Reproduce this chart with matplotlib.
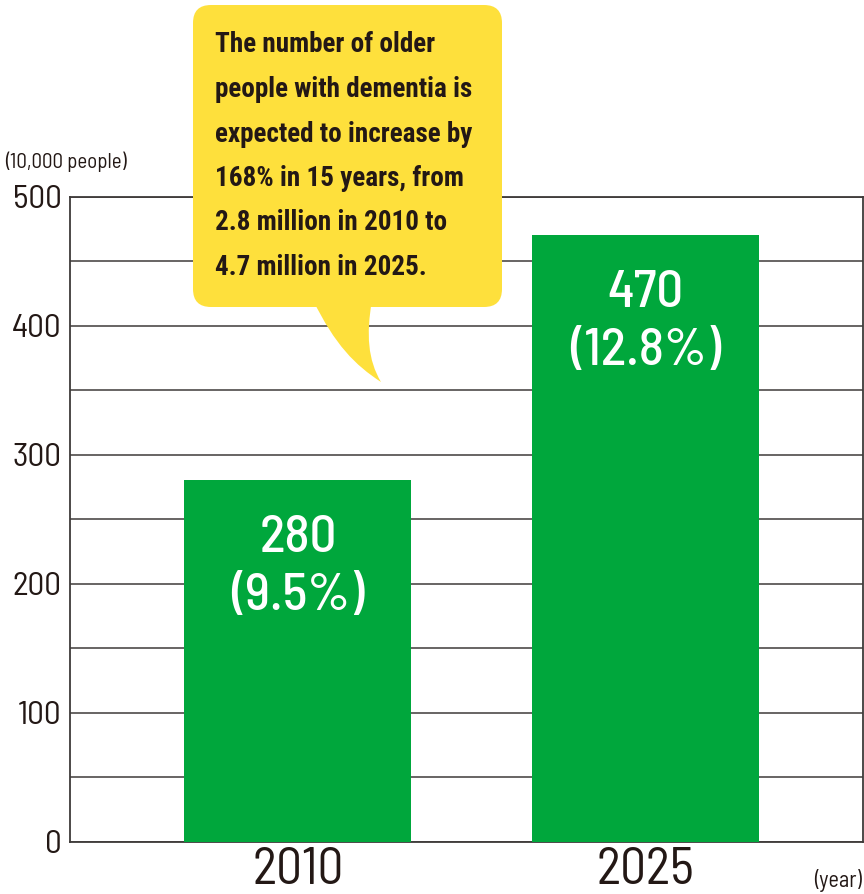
import matplotlib
matplotlib.use("Agg")
import matplotlib.pyplot as plt
from matplotlib.patches import FancyBboxPatch, PathPatch
from matplotlib.path import Path

years = ["2010", "2025"]
people = [280, 470]          # 10,000 people
share = ["9.5%", "12.8%"]    # share of older population
note_lines = [
    "The number of older",
    "people with dementia is",
    "expected to increase by",
    "168% in 15 years, from",
    "2.8 million in 2010 to",
    "4.7 million in 2025.",
]

din_like = ["Barlow Semi Condensed", "Roboto", "DejaVu Sans"]
note_font = ["Roboto Condensed", "Liberation Sans", "DejaVu Sans"]
plt.rcParams["font.family"] = din_like

ink = "#231815"
line_col = "#3e3a39"
green = "#00a73c"
yellow = "#fee03c"

W, H = 864, 894
fig = plt.figure(figsize=(W / 100, H / 100), dpi=100)
ax = fig.add_axes([70 / W, 1 - 841.5 / H, 793 / W, (841.5 - 196.5) / H])

x = range(len(years))
ax.bar(x, people, width=0.652, color=green, zorder=3)
ax.set_xlim(-0.655, 1.624)
ax.set_ylim(0, 500)

ax.set_yticks(range(0, 501, 100))
ax.set_yticks(range(50, 500, 100), minor=True)
ax.grid(axis="y", which="both", color=line_col, linewidth=1.1, zorder=0)
ax.set_axisbelow(True)
ax.tick_params(axis="y", which="both", length=0, pad=6, labelsize=24, labelcolor=ink)
ax.tick_params(axis="x", length=0, pad=4, labelsize=37, labelcolor=ink)
ax.set_xticks(list(x))
ax.set_xticklabels(years)
for s in ax.spines.values():
    s.set_color(line_col)
    s.set_linewidth(1.3)

for xi, v, p in zip(x, people, share):
    ax.text(xi, v - 45, str(v), ha="center", va="center", color="white",
            fontsize=38, fontweight="medium", zorder=4)
    ax.text(xi, v - 90, f"({p})", ha="center", va="center", color="white",
            fontsize=38, fontweight="medium", zorder=4)

fig.text(5 / W, 1 - 162 / H, "(10,000 people)", fontsize=15, color=ink,
         ha="left", va="center")
fig.text(862 / W, 1 - 880 / H, "(year)", fontsize=16, color=ink,
         ha="right", va="center")

# speech bubble overlay in pixel coordinates
ov = fig.add_axes([0, 0, 1, 1], zorder=10)
ov.set_xlim(0, W)
ov.set_ylim(H, 0)
ov.axis("off")

box = FancyBboxPatch((193, 5), 309, 302, boxstyle="round,pad=0,rounding_size=18",
                     facecolor=yellow, edgecolor="none")
ov.add_patch(box)
tail = Path(
    [(313, 300), (335, 345), (355, 365), (381, 382),
     (368, 360), (366, 335), (372, 300), (313, 300)],
    [Path.MOVETO, Path.CURVE4, Path.CURVE4, Path.CURVE4,
     Path.CURVE4, Path.CURVE4, Path.CURVE4, Path.CLOSEPOLY],
)
ov.add_patch(PathPatch(tail, facecolor=yellow, edgecolor="none"))

for i, line in enumerate(note_lines):
    ov.text(215, 45 + i * 44.5, line, fontsize=19.5, fontweight="bold",
            family=note_font, color=ink, ha="left", va="center")

fig.savefig("out.png", dpi=100)
